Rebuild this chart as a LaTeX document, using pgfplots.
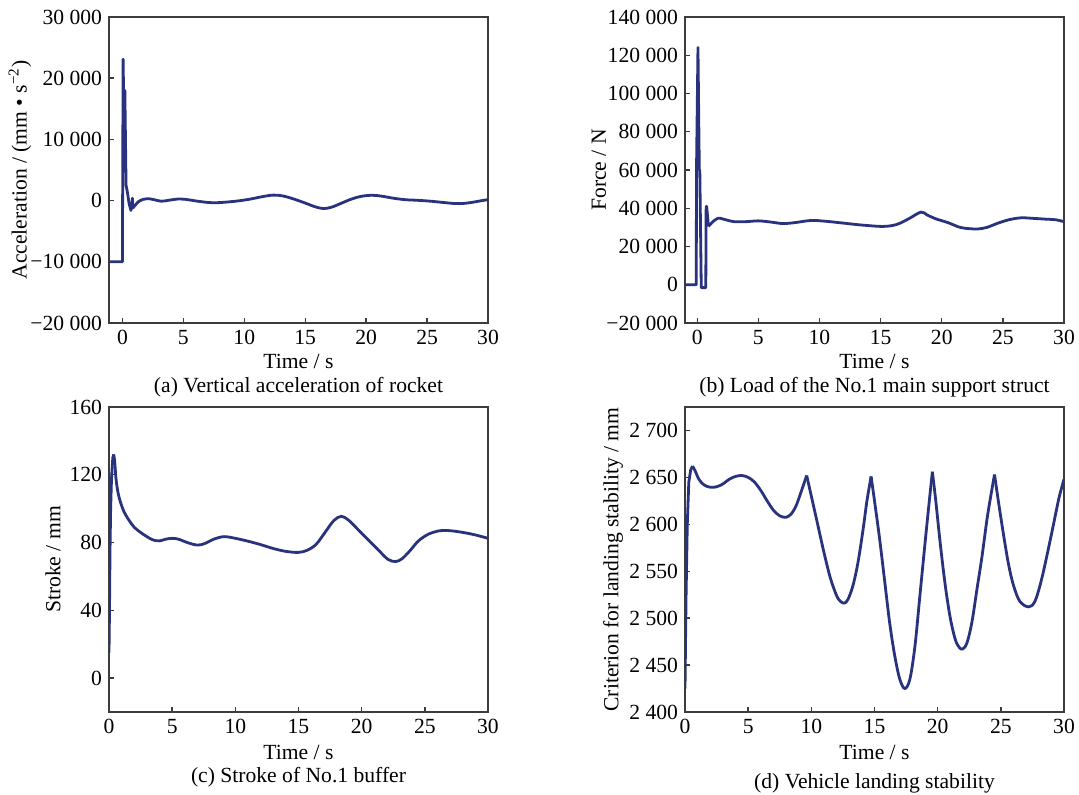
\documentclass[border=0pt]{standalone}
\usepackage{fontspec}
\setmainfont{Liberation Serif}
\usepackage{pgfplots}
\pgfplotsset{compat=1.18}
\definecolor{navy}{RGB}{40,50,125}
\definecolor{axgray}{RGB}{60,60,60}
\newcommand{\fs}{\fontsize{10.8}{13}\selectfont}
\pgfplotsset{
  panel/.style={
    scale only axis, width=189.5pt, anchor=south west,
    axis line style={axgray, line width=0.8pt},
    tick align=inside, tick pos=left,
    major tick length=2.5pt,
    every tick/.style={axgray, line width=0.7pt},
    tick label style={font=\fs},
    label style={font=\fs},
    scaled y ticks=false, scaled x ticks=false,
    /pgf/number format/assume math mode=true,
    xtick={0,5,...,30}, xmax=30,
  },
  curve/.style={navy, line width=1.4pt, line join=round, mark=none},
  scurve/.style={navy, line width=1.4pt, line join=round, mark=none, smooth, tension=0.55},
}
\begin{document}
\begin{tikzpicture}
% (a)
\begin{axis}[panel, at={(54.5pt,235.5pt)}, height=153pt,
  xmin=-1.1, ymin=-20000, ymax=30000,
  ytick={-20000,-10000,0,10000,20000,30000},
  yticklabels={−20 000,−10 000,0,10 000,20 000,30 000},
  xlabel={Time / s}, ylabel={Acceleration / (mm \textbullet\ s\textsuperscript{−2})},
  xlabel style={at={(axis description cs:0.5,-0.127)}, anchor=center},
  ylabel style={at={(axis description cs:-0.235,0.5)}, anchor=center}]
\addplot[curve] coordinates {(-1.1,-10000) (0,-10000) (0.06,23100) (0.14,10000) (0.2,18000) (0.3,2500) (0.4,1500) (0.55,-500) (0.7,-1600) (0.78,-800) (0.82,400) (0.86,-1200) (1.0,-900)};
\addplot[scurve] coordinates {(1.0,-900) (1.3,-200) (1.7,200) (2.2,300) (2.7,100) (3.2,-100) (3.8,50) (4.5,250) (5.2,200) (6,-50) (7,-300) (7.7,-350) (8.5,-250) (9.5,-50) (10.5,250) (11.5,650) (12.4,900) (13.2,750) (14,300) (15,-400) (15.8,-1000) (16.5,-1300) (17.2,-1050) (18,-400) (18.8,250) (19.6,700) (20.5,870) (21.3,720) (22.2,400) (23.2,150) (24.2,50) (25.3,-100) (26.3,-300) (27.3,-480) (28,-460) (28.8,-250) (29.5,0) (30,150)};
\end{axis}
% (b)
\begin{axis}[panel, at={(342.5pt,235.5pt)}, height=153pt,
  xmin=-1, ymin=-20000, ymax=140000,
  ytick={-20000,0,20000,40000,60000,80000,100000,120000,140000},
  yticklabels={−20 000,0,20 000,40 000,60 000,80 000,100 000,120 000,140 000},
  xlabel={Time / s}, ylabel={Force / N},
  xlabel style={at={(axis description cs:0.5,-0.127)}, anchor=center},
  ylabel style={at={(axis description cs:-0.227,0.5)}, anchor=center}]
\addplot[curve] coordinates {(-1,0) (-0.08,0) (-0.06,60000) (0.06,124000) (0.17,60000) (0.21,60000) (0.33,-1500) (0.7,-1500) (0.73,41000) (0.77,41000) (0.92,30500)};
\addplot[scurve] coordinates {(0.92,30500) (1.2,32500) (1.7,34800) (2.2,34200) (3,33000) (4,33000) (5,33400) (6,32800) (7,32000) (8,32500) (9.3,33600) (10.5,33200) (12,32200) (13.5,31200) (15.2,30500) (16.3,31500) (17.3,34500) (18.3,38000) (18.8,36500) (19.5,34500) (20.5,32500) (21.5,30000) (22.3,29300) (23,29200) (23.7,30000) (24.5,32000) (25.5,34000) (26.5,35000) (27.5,34700) (28.5,34300) (29.3,34000) (30,33000)};
\end{axis}
% (c)
\begin{axis}[panel, at={(54.5pt,41pt)}, height=152.5pt,
  xmin=0, ymin=-20, ymax=160,
  ytick={0,40,80,120,160},
  xlabel={Time / s}, ylabel={Stroke / mm},
  xlabel style={at={(axis description cs:0.5,-0.131)}, anchor=center},
  ylabel style={at={(axis description cs:-0.148,0.5)}, anchor=center}]
\addplot[curve] coordinates {(0,15) (0.04,40) (0.08,75) (0.13,100) (0.2,118) (0.3,130) (0.37,132)};
\addplot[scurve] coordinates {(0.37,132) (0.45,128) (0.55,118) (0.7,110) (0.9,104) (1.2,98) (1.6,93) (2.0,89) (2.5,86) (3.0,83.5) (3.5,81.5) (4.0,81) (4.5,82) (5.0,82.5) (5.5,82) (6.2,80) (7.0,78.5) (7.6,79.5) (8.3,82) (9.1,83.5) (10,82.5) (11,80.8) (12,78.8) (13,76.5) (14,74.8) (15,74.2) (15.7,75.5) (16.4,79) (17.1,86) (17.8,93) (18.4,95.5) (19,93) (19.8,87) (20.6,81) (21.4,75) (22.1,70) (22.7,68.8) (23.2,70.5) (23.8,75) (24.5,81) (25.3,85) (26.2,87) (27,87) (28,86) (29,84.5) (30,82.5)};
\end{axis}
% (d)
\begin{axis}[panel, at={(342.5pt,41pt)}, height=152.5pt,
  xmin=0, ymin=2400, ymax=2725,
  ytick={2400,2450,2500,2550,2600,2650,2700},
  yticklabels={2 400,2 450,2 500,2 550,2 600,2 650,2 700},
  xlabel={Time / s}, ylabel={Criterion for landing stability / mm},
  xlabel style={at={(axis description cs:0.5,-0.131)}, anchor=center},
  ylabel style={at={(axis description cs:-0.19,0.5)}, anchor=center}]
\addplot[curve] coordinates {(0,2425) (0.08,2520) (0.18,2600) (0.3,2645) (0.45,2658) (0.6,2662)};
\addplot[scurve] coordinates {(0.6,2662) (0.8,2657) (1.1,2648) (1.5,2642) (2.0,2639.5) (2.5,2640) (3.0,2643) (3.5,2648) (4.0,2651) (4.5,2652) (5.0,2650) (5.5,2645) (6.0,2636) (6.5,2625) (7.0,2615) (7.5,2609) (8.0,2607.5) (8.4,2611) (8.8,2620) (9.2,2635) (9.63,2652)};
\addplot[scurve] coordinates {(9.63,2652) (10.0,2630) (10.5,2600) (11.0,2570) (11.5,2543) (12.0,2524) (12.3,2518) (12.6,2516) (12.9,2520) (13.3,2535) (13.7,2560) (14.1,2595) (14.4,2625) (14.73,2651)};
\addplot[scurve] coordinates {(14.73,2651) (15.0,2625) (15.4,2585) (15.8,2540) (16.2,2495) (16.6,2460) (17.0,2435) (17.4,2425) (17.8,2435) (18.2,2470) (18.6,2525) (19.0,2580) (19.3,2620) (19.58,2656)};
\addplot[scurve] coordinates {(19.58,2656) (19.85,2625) (20.2,2580) (20.6,2535) (21.0,2500) (21.4,2477) (21.7,2469) (21.95,2467) (22.3,2473) (22.7,2495) (23.1,2530) (23.5,2565) (23.9,2605) (24.2,2630) (24.5,2653)};
\addplot[scurve] coordinates {(24.5,2653) (24.8,2625) (25.2,2590) (25.6,2558) (26.0,2535) (26.5,2518) (27.2,2512) (27.7,2518) (28.2,2540) (28.7,2570) (29.2,2602) (29.6,2628) (30,2648)};
\end{axis}
\node[font=\fs] at (149.25pt,203.5pt) {(a) Vertical acceleration of rocket};
\node[font=\fs] at (437.25pt,203.5pt) {(b) Load of the No.1 main support struct};
\node[font=\fs] at (149.25pt,8.5pt) {(c) Stroke of No.1 buffer};
\node[font=\fs] at (437.25pt,5.5pt) {(d) Vehicle landing stability};
\pgfresetboundingbox
\path (0,0) rectangle (539.5pt,397pt);
\end{tikzpicture}
\end{document}
